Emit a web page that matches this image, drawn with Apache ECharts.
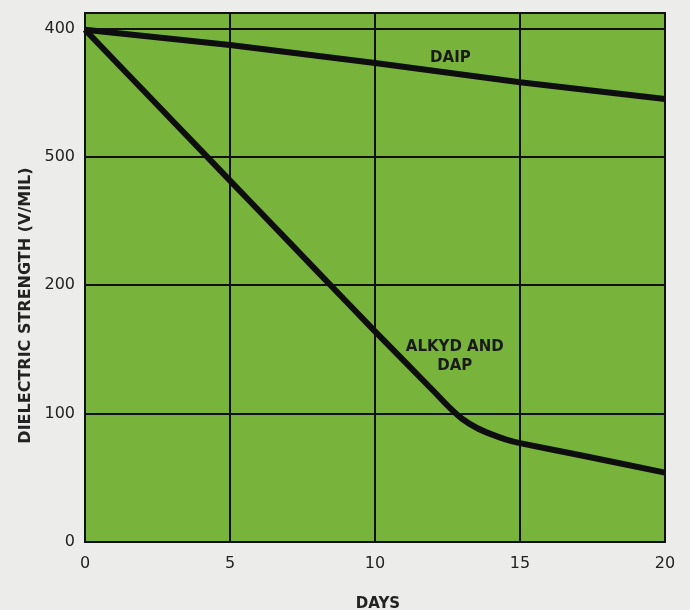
<!DOCTYPE html>
<html>
<head>
<meta charset="utf-8">
<script src="https://cdn.jsdelivr.net/npm/echarts@6/dist/echarts.min.js"></script>
<style>
html,body{margin:0;padding:0;background:#ecedea;}
#chart{width:690px;height:610px;}
</style>
</head>
<body>
<div id="chart"></div>
<script>
// Days on x-axis
const xTicks = [0, 5, 10, 15, 20];
// Y tick values and the labels printed in the reference (note "500" at the 300 position)
const yTickValues = [0, 100, 200, 300, 400];
const yTickLabels = ["0", "100", "200", "500", "400"];

const daipDays   = [0, 5, 10, 15, 20];
const daipValues = [399, 387, 373, 358, 345];

const alkydDays   = [0, 2, 4, 6, 8, 10, 12, 12.6, 13.0, 13.5, 14.0, 14.5, 15, 17, 20];
const alkydValues = [399, 352, 305, 258, 211, 164, 118, 104, 96, 89, 84, 80, 77, 68, 54];

const daipLabel  = {name: "DAIP", day: 12.6, value: 377};
const alkydLabel = {name: "ALKYD AND\nDAP", day: 12.75, value: 144};

const font = "DejaVu Sans";
const chart = echarts.init(document.getElementById('chart'));
chart.setOption({
  backgroundColor: '#ecedea',
  animation: false,
  grid: {
    left: 85, right: 25, top: 13, bottom: 68,
    outerBoundsMode: 'none', containLabel: false,
    show: true, backgroundColor: '#78b43c', borderColor: '#111', borderWidth: 2
  },
  xAxis: {
    type: 'value', min: 0, max: 20, interval: 5,
    name: 'DAYS', nameLocation: 'middle', nameGap: 55,
    nameTextStyle: {color: '#222', fontFamily: font, fontSize: 15, fontWeight: 'bold', padding: [0, 0, 0, 6]},
    axisLine: {show: true, lineStyle: {color: '#111', width: 2}},
    axisTick: {show: false},
    axisLabel: {color: '#222', fontFamily: font, fontSize: 16, margin: 14,
      formatter: v => xTicks.includes(v) ? String(v) : ''},
    splitLine: {show: true, lineStyle: {color: '#111', width: 2}}
  },
  yAxis: {
    type: 'value', min: 0, max: 412, interval: 100,
    name: 'DIELECTRIC STRENGTH (V/MIL)', nameLocation: 'middle', nameGap: 47,
    nameTextStyle: {color: '#222', fontFamily: font, fontSize: 16, fontWeight: 'bold', padding: [0, 56, 0, 0]},
    axisLine: {show: true, lineStyle: {color: '#111', width: 2}},
    axisTick: {show: false},
    axisLabel: {color: '#222', fontFamily: font, fontSize: 16, margin: 10,
      showMaxLabel: false,
      formatter: v => { const i = yTickValues.indexOf(v); return i >= 0 ? yTickLabels[i] : ''; }},
    splitLine: {show: true, lineStyle: {color: '#111', width: 2}}
  },
  series: [
    {
      type: 'line', name: 'DAIP', symbol: 'none', smooth: false,
      lineStyle: {color: '#0e0e0e', width: 6},
      data: daipDays.map((d, i) => [d, daipValues[i]]),
      markPoint: {
        symbol: 'circle', symbolSize: 0,
        label: {show: true, color: '#1a1a1a', fontFamily: font, fontSize: 15, fontWeight: 'bold',
          formatter: p => p.name},
        data: [{name: daipLabel.name, coord: [daipLabel.day, daipLabel.value]}]
      }
    },
    {
      type: 'line', name: 'ALKYD AND DAP', symbol: 'none', smooth: 0.2,
      lineStyle: {color: '#0e0e0e', width: 6},
      data: alkydDays.map((d, i) => [d, alkydValues[i]]),
      markPoint: {
        symbol: 'circle', symbolSize: 0,
        label: {show: true, color: '#1a1a1a', fontFamily: font, fontSize: 15, fontWeight: 'bold',
          lineHeight: 19, align: 'center', formatter: p => p.name},
        data: [{name: alkydLabel.name, coord: [alkydLabel.day, alkydLabel.value]}]
      }
    }
  ]
});
</script>
</body>
</html>
